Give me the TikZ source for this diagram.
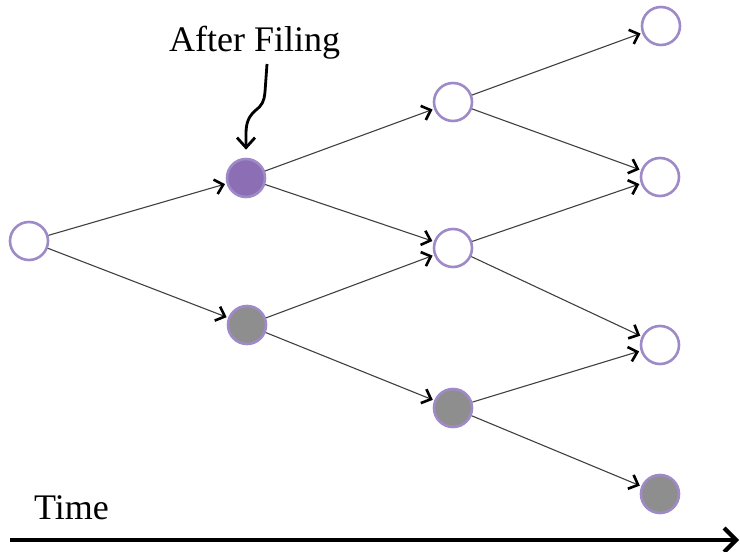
\documentclass[tikz,border=0pt]{standalone}
\usepackage{fontspec}
\setmainfont{Liberation Serif}
\usetikzlibrary{arrows.meta}
\definecolor{ringpurple}{HTML}{9F8AC8}
\definecolor{fillpurple}{HTML}{8C6EB4}
\definecolor{fillgray}{HTML}{8E8E8E}
\definecolor{edgegray}{HTML}{404040}
\tikzset{
  x=1pt, y=1pt,
  state/.style={circle, draw=ringpurple, line width=2.6pt, minimum size=38pt, inner sep=0pt},
  open/.style={state, fill=white},
  filed/.style={state, fill=fillpurple},
  closed/.style={state, fill=fillgray},
  branch/.style={draw=edgegray, line width=1.1pt,
    -{Straight Barb[length=8pt,width=15pt,line width=2.6pt,color=black]}, shorten >=1.5pt},
  label/.style={font=\fontsize{36}{40}\selectfont, inner sep=0pt, anchor=base west}
}
\begin{document}
\begin{tikzpicture}
\useasboundingbox (0,0) rectangle (740,552);
% lattice nodes (y measured from the bottom)
\node[open]   (r0) at (29,311) {};
\node[filed]  (a)  at (246,374) {};
\node[closed] (b)  at (247,227) {};
\node[open]   (c)  at (453,450) {};
\node[open]   (d)  at (453,304) {};
\node[closed] (e)  at (453,144) {};
\node[open]   (f)  at (661,526) {};
\node[open]   (g)  at (660,375) {};
\node[open]   (h)  at (660,207) {};
\node[closed] (i)  at (660,58) {};
% branches
\foreach \s/\t in {r0/a, r0/b, a/c, a/d, b/d, b/e, c/f, c/g, d/g, d/h, e/h, e/i}
  \draw[branch] (\s) -- (\t);
% annotation
\node[label] (lbl) at (169,500) {After Filing};
\coordinate (lblfoot) at (267,488);
\draw[line width=2.8pt, shorten >=8pt,
      -{Straight Barb[length=10pt,width=18pt,line width=2.8pt]}]
  (lblfoot) -- (265,460) .. controls (264,450) and (262,447) .. (256,442)
  .. controls (249,436) and (246,430) .. (246,418) -- (a.north);
% time axis
\node[label] (time) at (34,32) {Time};
\coordinate (t0) at (10,12);
\coordinate (t1) at (739,12);
\draw[line width=4.5pt, -{Straight Barb[length=12pt,width=24pt,line width=4.2pt]}] (t0) -- (t1);
\end{tikzpicture}
\end{document}
